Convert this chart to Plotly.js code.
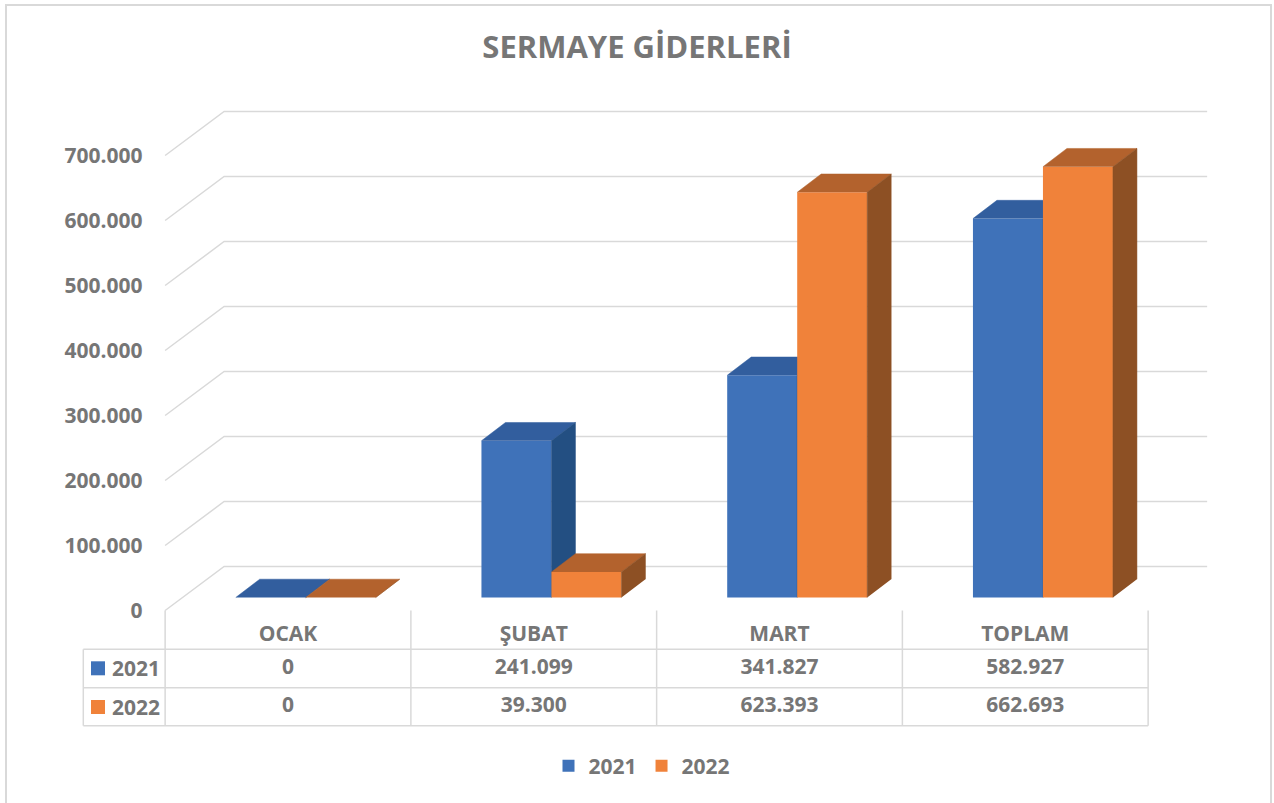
<!DOCTYPE html>
<html>
<head>
<meta charset="utf-8">
<script src="https://cdn.plot.ly/plotly-3.0.1.min.js"></script>
<style>html,body{margin:0;padding:0;background:#fff;}#chart{width:1274px;height:803px;}</style>
</head>
<body>
<div id="chart"></div>
<script>
// ---------- data ----------
const chartTitle = 'SERMAYE GİDERLERİ';
const categories = ['OCAK', 'ŞUBAT', 'MART', 'TOPLAM'];
const seriesNames = ['2021', '2022'];
const values2021 = [0, 241099, 341827, 582927];
const values2022 = [0, 39300, 623393, 662693];
const yTickVals = [0, 100000, 200000, 300000, 400000, 500000, 600000, 700000];

// ---------- geometry / style (pixels of the 1274x803 canvas) ----------
const W = 1274, H = 803;
const CAT0_PX = 288, SLOT_PX = 245.75;      // category centre / slot width on the front plane
const ZERO_PX = 610.5, PX_PER_UNIT = 0.00065; // front-plane zero line and vertical scale
const px2x = p => (p - CAT0_PX) / SLOT_PX;
const px2y = p => (ZERO_PX - p) / PX_PER_UNIT;
const dxU = p => p / SLOT_PX;          // horizontal pixel length -> x units
const dyU = p => p / PX_PER_UNIT;      // vertical pixel length -> y units

const WALL_DX = dxU(59), WALL_DY = dyU(44);
const BAR_XOFF = dxU(17.7), BAR_BASE = dyU(13), BAR_W = dxU(70);
const BAR_DX = dxU(24), BAR_DY = dyU(18.3);

const FONT = 'Open Sans, sans-serif';
const TXT = '#767676';
const GRID = '#D9D9D9';
const COL = {
  '2021': {front: '#3F72B9', top: '#325E9E', side: '#234F82'},
  '2022': {front: '#F0823A', top: '#B3622D', side: '#8D5024'}
};

function fmt(v) {
  return String(Math.round(v)).replace(/\B(?=(\d{3})+(?!\d))/g, '.');
}

const xr = [px2x(0), px2x(W)];
const yr = [px2y(H), px2y(0)];

const traces = [];

// ---------- 3D wall gridlines (layer 1) ----------
const gx = [], gy = [];
const nCat = categories.length;
yTickVals.forEach(v => {
  gx.push(-0.5, -0.5 + WALL_DX, nCat - 0.5 + WALL_DX, null);
  gy.push(v, v + WALL_DY, v + WALL_DY, null);
});
traces.push({type: 'scatter', mode: 'lines', x: gx, y: gy, xaxis: 'x', yaxis: 'y',
  line: {color: GRID, width: 1.5}, showlegend: false, hoverinfo: 'skip'});

// ---------- columns ----------
function addSeries(name, vals, shift, xa, ya) {
  const c = COL[name];
  const idx = vals.map((_, i) => i);
  traces.push({type: 'bar', name: name, x: idx, y: vals, base: BAR_BASE,
    width: BAR_W, offset: BAR_XOFF + shift, xaxis: xa, yaxis: ya,
    marker: {color: c.front, line: {width: 0}}, hoverinfo: 'skip', showlegend: true});
  const tx = [], ty = [], sx = [], sy = [];
  vals.forEach((v, i) => {
    const xL = i + BAR_XOFF + shift, xR = xL + BAR_W;
    const b = BAR_BASE, t = BAR_BASE + v;
    tx.push(xL, xL + BAR_DX, xR + BAR_DX, xR, null);
    ty.push(t, t + BAR_DY, t + BAR_DY, t, null);
    sx.push(xR, xR, xR + BAR_DX, xR + BAR_DX, null);
    sy.push(b, t, t + BAR_DY, b + BAR_DY, null);
  });
  traces.push({type: 'scatter', mode: 'lines', x: tx, y: ty, fill: 'toself', fillcolor: c.top,
    line: {color: c.top, width: 0.5}, xaxis: xa, yaxis: ya, showlegend: false, hoverinfo: 'skip'});
  traces.push({type: 'scatter', mode: 'lines', x: sx, y: sy, fill: 'toself', fillcolor: c.side,
    line: {color: c.side, width: 0.5}, xaxis: xa, yaxis: ya, showlegend: false, hoverinfo: 'skip'});
}
addSeries(seriesNames[0], values2021, -BAR_W, 'x2', 'y2');
addSeries(seriesNames[1], values2022, 0, 'x3', 'y3');

// ---------- data table ----------
const HEAD_Y = 636, ROW_Y = [668.3, 707];
const tableFont = {family: FONT, size: 21, color: TXT, weight: 'bold'};
const idx = categories.map((_, i) => i);
traces.push({type: 'scatter', mode: 'text', x: idx, y: idx.map(() => px2y(HEAD_Y)),
  text: categories, textfont: tableFont, xaxis: 'x', yaxis: 'y', showlegend: false, hoverinfo: 'skip'});
[values2021, values2022].forEach((vals, r) => {
  traces.push({type: 'scatter', mode: 'text', x: idx, y: idx.map(() => px2y(ROW_Y[r])),
    text: vals.map(fmt), textfont: tableFont, xaxis: 'x', yaxis: 'y', showlegend: false, hoverinfo: 'skip'});
});
// key squares in the table
traces.push({type: 'scatter', mode: 'markers', x: [px2x(98), px2x(98)], y: ROW_Y.map(px2y),
  marker: {symbol: 'square', size: 14, color: [COL['2021'].front, COL['2022'].front], line: {width: 0}},
  xaxis: 'x', yaxis: 'y', showlegend: false, hoverinfo: 'skip'});

const annotations = seriesNames.map((n, r) => ({
  text: n, x: px2x(110), y: px2y(ROW_Y[r]), xref: 'x', yref: 'y',
  xanchor: 'left', yanchor: 'middle', showarrow: false, font: tableFont
}));

// table rules
const shapes = [];
const L = px2x(83.3), R = nCat - 0.5;
const lineStyle = {color: GRID, width: 1.5};
[649.3, 687.7, 725.7].forEach(p => shapes.push({type: 'line', xref: 'x', yref: 'y',
  x0: L, x1: R, y0: px2y(p), y1: px2y(p), line: lineStyle}));
shapes.push({type: 'line', xref: 'x', yref: 'y', x0: L, x1: L, y0: px2y(649.3), y1: px2y(725.7), line: lineStyle});
for (let k = 0; k <= nCat; k++) {
  shapes.push({type: 'line', xref: 'x', yref: 'y', x0: k - 0.5, x1: k - 0.5,
    y0: 0, y1: px2y(725.7), line: lineStyle});
}
// chart border
shapes.push({type: 'rect', xref: 'paper', yref: 'paper', x0: 6 / W, x1: 1271 / W, y0: -0.02, y1: 1 - 5 / H,
  line: {color: '#D9D9D9', width: 2}});

const hiddenX = {range: xr, visible: false, fixedrange: true};
const hiddenY = {range: yr, visible: false, fixedrange: true};

const layout = {
  width: W, height: H,
  margin: {l: 0, r: 0, t: 0, b: 0, pad: 0},
  paper_bgcolor: '#FFFFFF', plot_bgcolor: 'rgba(0,0,0,0)',
  separators: ',.',
  hovermode: false,
  barmode: 'overlay',
  title: {text: chartTitle, x: 0.5, xanchor: 'center', xref: 'paper', y: 1 - 47 / H, yanchor: 'middle', yref: 'container',
    font: {family: FONT, size: 31, color: TXT, weight: 'bold'}},
  xaxis: {range: xr, visible: false, fixedrange: true, domain: [0, 1]},
  yaxis: {range: yr, anchor: 'free', position: 165.5 / W, side: 'left',
    tickvals: yTickVals, tickformat: ',d', ticks: '', showline: false, showgrid: false, zeroline: false,
    ticklabelstandoff: 23, tickfont: {family: FONT, size: 21, color: TXT, weight: 'bold'}, fixedrange: true},
  xaxis2: Object.assign({overlaying: 'x'}, hiddenX),
  yaxis2: Object.assign({overlaying: 'y'}, hiddenY),
  xaxis3: Object.assign({overlaying: 'x'}, hiddenX),
  yaxis3: Object.assign({overlaying: 'y'}, hiddenY),
  showlegend: true,
  legend: {orientation: 'h', x: 0.5 + 5 / W, xanchor: 'center', y: 1 - 766 / H, yanchor: 'middle',
    font: {family: FONT, size: 21, color: TXT, weight: 'bold'}, bgcolor: 'rgba(0,0,0,0)', traceorder: 'normal'},
  shapes: shapes,
  annotations: annotations
};

Plotly.newPlot('chart', traces, layout, {displayModeBar: false, staticPlot: true});
</script>
</body>
</html>
